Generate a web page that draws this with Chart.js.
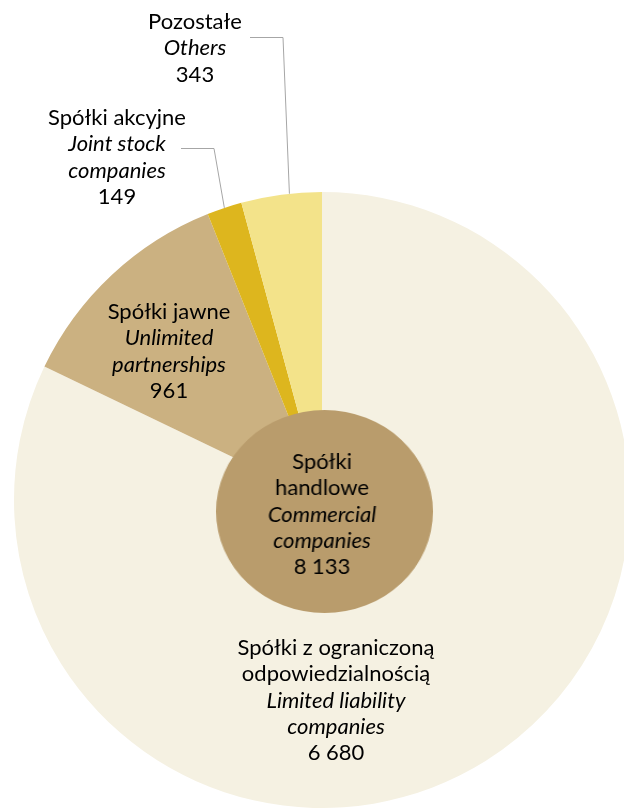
<!DOCTYPE html>
<html lang="pl">
<head>
<meta charset="utf-8">
<title>Spółki handlowe</title>
<script src="https://cdn.jsdelivr.net/npm/chart.js@4/dist/chart.umd.min.js"></script>
<style>
  html, body { margin: 0; padding: 0; background: #fff; overflow: hidden; }
  #wrap { position: relative; width: 644px; height: 809px; }
  #inner { position: absolute; left: 223px; top: 410px; width: 203px; height: 203px;
           transform: scaleX(1.069); transform-origin: 50% 50%; }
</style>
</head>
<body>
<div id="wrap">
  <canvas id="pieChart"></canvas>
  <div id="inner"><canvas id="totalChart"></canvas></div>
</div>
<script>
/* Dane — liczba spółek handlowych wg formy prawnej */
const categoriesPl = ['Spółki z ograniczoną odpowiedzialnością', 'Spółki jawne', 'Spółki akcyjne', 'Pozostałe'];
const categoriesEn = ['Limited liability companies', 'Unlimited partnerships', 'Joint stock companies', 'Others'];
const values = [6680, 961, 149, 343];
const totalPl = 'Spółki handlowe';
const totalEn = 'Commercial companies';
const totalValue = 8133;

/* Wygląd */
const sliceColors = ['#F5F1E2', '#CBB181', '#DDB61E', '#F3E38A'];
const totalColor = '#B99C6C';
const FONT = 'Lato, "Open Sans", sans-serif';
const FONT_SIZE = 22;
const LINE_H = 26.3;

// podział etykiet na linie (tekst z tablic powyżej) + pozycje
const labelLayout = [
  { x: 336, y: 648, pl: ['Spółki z ograniczoną', 'odpowiedzialnością'], en: ['Limited liability', 'companies'] },
  { x: 169, y: 312, pl: ['Spółki jawne'], en: ['Unlimited', 'partnerships'] },
  { x: 117, y: 118, pl: ['Spółki akcyjne'], en: ['Joint stock', 'companies'], leader: { x0: 181, y0: 148, x1: 214, frac: 0.5 } },
  { x: 195, y: 22, pl: ['Pozostałe'], en: ['Others'], leader: { x0: 250, y0: 37, x1: 283, frac: 0.6 } },
];

const fmt = n => String(n).replace(/\B(?=(\d{3})+(?!\d))/g, ' ');

function drawBlock(ctx, x, y, plLines, enLines, value) {
  const lines = [];
  plLines.forEach(t => lines.push({ t, it: false }));
  enLines.forEach(t => lines.push({ t, it: true }));
  lines.push({ t: fmt(value), it: false });
  ctx.fillStyle = '#000';
  ctx.textAlign = 'center';
  ctx.textBaseline = 'middle';
  lines.forEach((l, i) => {
    ctx.font = (l.it ? 'italic ' : '') + FONT_SIZE + 'px ' + FONT;
    ctx.fillText(l.t, x, y + i * LINE_H);
  });
}

/* Etykiety i linie odniesienia dla wycinków */
const sliceLabels = {
  id: 'sliceLabels',
  afterDatasetsDraw(chart) {
    const ctx = chart.ctx;
    const arcs = chart.getDatasetMeta(0).data;
    ctx.save();
    labelLayout.forEach((lab, i) => {
      const L = lab.leader;
      if (L) {
        const arc = arcs[i];
        const a = arc.startAngle + (arc.endAngle - arc.startAngle) * L.frac;
        const ex = arc.x + arc.outerRadius * Math.cos(a);
        const ey = arc.y + arc.outerRadius * Math.sin(a);
        ctx.strokeStyle = '#A6A6A6';
        ctx.lineWidth = 1;
        ctx.beginPath();
        ctx.moveTo(L.x0, L.y0 + 0.5);
        ctx.lineTo(L.x1, L.y0 + 0.5);
        ctx.lineTo(ex, ey);
        ctx.stroke();
      }
      drawBlock(ctx, lab.x, lab.y, lab.pl, lab.en, values[i]);
    });
    ctx.restore();
  }
};

new Chart(document.getElementById('pieChart'), {
  type: 'pie',
  data: {
    labels: categoriesPl,
    datasets: [{ data: values, backgroundColor: sliceColors, borderWidth: 0, hoverOffset: 0, offset: 0 }],
  },
  options: {
    responsive: true,
    maintainAspectRatio: false,
    animation: false,
    events: [],
    layout: { padding: { left: 14, right: 14, top: 192, bottom: 1 } },
    plugins: { legend: { display: false }, tooltip: { enabled: false } },
  },
  plugins: [sliceLabels],
});

/* Koło środkowe — suma spółek handlowych */
const totalLabel = {
  id: 'totalLabel',
  afterDatasetsDraw(chart) {
    const ctx = chart.ctx;
    const arc = chart.getDatasetMeta(0).data[0];
    ctx.save();
    ctx.translate(arc.x, arc.y);
    ctx.scale(1 / 1.069, 1);   // kontener jest rozciągnięty w poziomie
    drawBlock(ctx, -2.5, 462 - 511.5, ['Spółki', 'handlowe'], ['Commercial', 'companies'], totalValue);
    ctx.restore();
  }
};

new Chart(document.getElementById('totalChart'), {
  type: 'pie',
  data: {
    labels: [totalPl + ' / ' + totalEn],
    datasets: [{ data: [totalValue], backgroundColor: [totalColor], borderWidth: 0, hoverOffset: 0 }],
  },
  options: {
    responsive: true,
    maintainAspectRatio: false,
    animation: false,
    events: [],
    layout: { padding: 0 },
    plugins: { legend: { display: false }, tooltip: { enabled: false } },
  },
  plugins: [totalLabel],
});
</script>
</body>
</html>
